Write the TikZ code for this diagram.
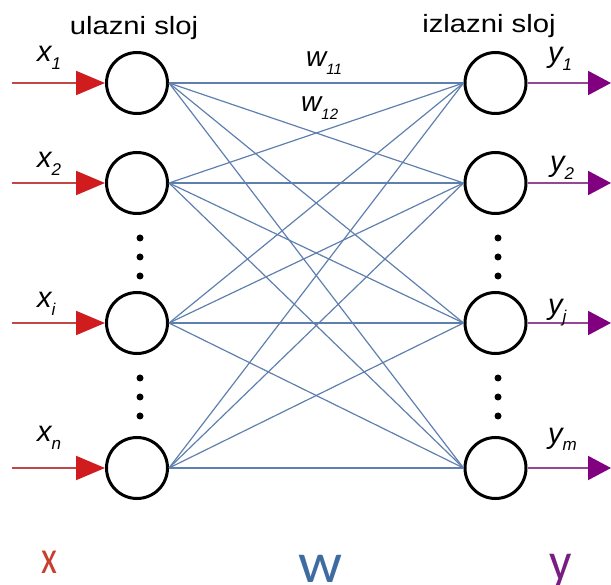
\documentclass[tikz,border=0pt]{standalone}
\usepackage{fontspec}
\setmainfont{Liberation Sans}
\newfontfamily\calfont{Carlito}
\usetikzlibrary{arrows.meta}
\definecolor{inred}{RGB}{195,70,70}
\definecolor{inredhead}{RGB}{208,28,30}
\definecolor{outpur}{RGB}{150,70,150}
\definecolor{outpurhead}{RGB}{128,0,128}
\definecolor{wblue}{RGB}{95,128,175}
\definecolor{bigx}{RGB}{200,62,48}
\definecolor{bigw}{RGB}{62,108,160}
\definecolor{bigy}{RGB}{120,30,130}
\newcommand{\varlbl}[2]{\fontsize{29}{29}\selectfont\itshape #1\raisebox{-8pt}{\fontsize{17}{17}\selectfont #2}}
\newcommand{\wlbl}[2]{\fontsize{28}{28}\selectfont\itshape #1\raisebox{-8pt}{\fontsize{15}{15}\selectfont #2}}
\tikzset{
  neuron/.style={circle,draw=black,line width=3pt,minimum size=61pt,inner sep=0pt},
  conn/.style={draw=wblue,line width=1.2pt},
  inarrow/.style={draw=inred,line width=2pt,-{Triangle[length=29pt,width=24pt,fill=inredhead,color=inredhead]}},
  outarrow/.style={draw=outpur,line width=2pt,-{Triangle[length=23pt,width=24pt,fill=outpurhead,color=outpurhead]}},
  lbl/.style={anchor=base west,inner sep=0pt},
  dotmark/.style={circle,fill=black,minimum size=7pt,inner sep=0pt}
}
\begin{document}
\begin{tikzpicture}[x=1pt,y=-1pt]
\useasboundingbox (0,0) rectangle (611,585);
% neurons
\node[neuron] (i1) at (137,83) {};
\node[neuron] (i2) at (137,183) {};
\node[neuron] (ii) at (137,323) {};
\node[neuron] (in) at (137,468) {};
\node[neuron] (o1) at (495.5,83) {};
\node[neuron] (o2) at (495.5,183) {};
\node[neuron] (oj) at (495.5,323) {};
\node[neuron] (om) at (495.5,468) {};
% connections
\foreach \a in {i1,i2,ii,in}{
  \foreach \b in {o1,o2,oj,om}{
    \draw[conn] (\a.east) -- (\b.west);
  }
}
% input arrows
\coordinate (s1) at (12,83);
\coordinate (s2) at (12,183);
\coordinate (si) at (12,323);
\coordinate (sn) at (12,468);
\draw[inarrow] (s1) -- (i1.west);
\draw[inarrow] (s2) -- (i2.west);
\draw[inarrow] (si) -- (ii.west);
\draw[inarrow] (sn) -- (in.west);
% output arrows
\coordinate (e1) at (611,83);
\coordinate (e2) at (611,183);
\coordinate (ej) at (611,323);
\coordinate (em) at (611,468);
\draw[outarrow] (o1.east) -- (e1);
\draw[outarrow] (o2.east) -- (e2);
\draw[outarrow] (oj.east) -- (ej);
\draw[outarrow] (om.east) -- (em);
% dots
\foreach \yy [count=\k] in {238,257,276,378,397,416}{
  \node[dotmark] (dl\k) at (140,\yy) {};
  \node[dotmark] (dr\k) at (498,\yy) {};
}
% titles
\node[anchor=base,inner sep=0pt] (tin) at (134,35) {\fontsize{25}{25}\selectfont\scalebox{1.17}[1]{ulazni sloj}};
\node[anchor=base,inner sep=0pt] (tout) at (489,33) {\fontsize{25}{25}\selectfont\scalebox{1.17}[1]{izlazni sloj}};
% variable labels
\node[lbl] (lx1) at (37,62) {\varlbl{x}{1}};
\node[lbl] (lx2) at (37,168) {\varlbl{x}{2}};
\node[lbl] (lxi) at (37,308) {\varlbl{x}{i}};
\node[lbl] (lxn) at (37,442) {\varlbl{x}{n}};
\node[lbl] (ly1) at (548,63) {\varlbl{y}{1}};
\node[lbl] (ly2) at (550,172) {\varlbl{y}{2}};
\node[lbl] (lyj) at (548,315) {\varlbl{y}{j}};
\node[lbl] (lym) at (548,443) {\varlbl{y}{m}};
\node[lbl] (w11) at (306,67) {\wlbl{w}{11}};
\node[lbl] (w12) at (301,112) {\wlbl{w}{12}};
% bottom letters
\node[anchor=base,inner sep=0pt,text=bigx] (bx) at (49.5,573) {\calfont\fontsize{47}{47}\selectfont\scalebox{0.78}[1]{x}};
\node[anchor=base,inner sep=0pt,text=bigw] (bw) at (321,582) {\calfont\fontsize{57}{57}\selectfont\scalebox{1.08}[1]{w}};
\node[anchor=base,inner sep=0pt,text=bigy] (by) at (561,580) {\calfont\fontsize{55}{55}\selectfont\scalebox{0.9}[1]{y}};
\end{tikzpicture}
\end{document}
